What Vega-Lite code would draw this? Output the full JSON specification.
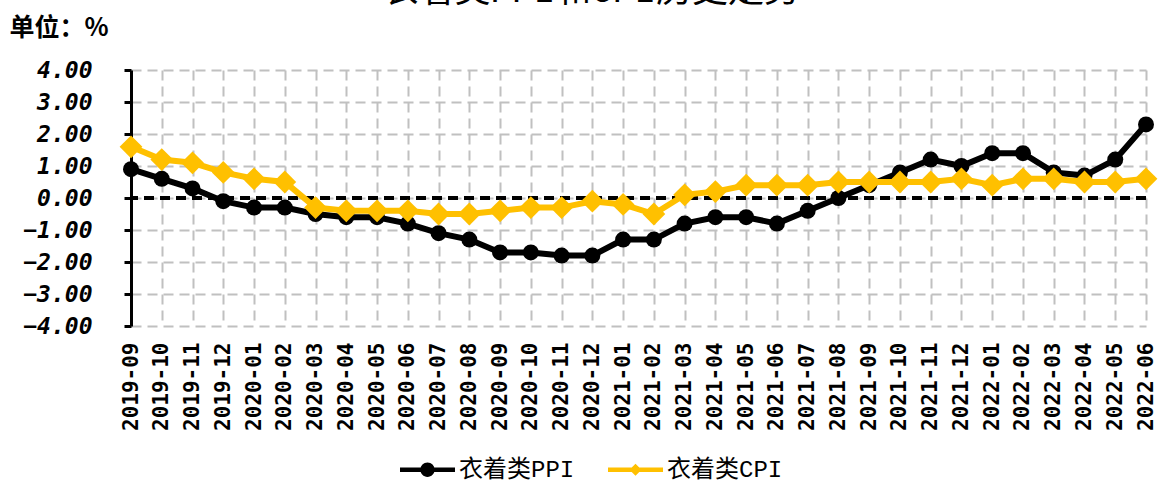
{
  "$schema": "https://vega.github.io/schema/vega-lite/v6.json",
  "width": 1015,
  "height": 256,
  "autosize": {"type": "none"},
  "padding": {"left": 131, "top": 70, "right": 13, "bottom": 159},
  "background": "white",
  "title": {"text": "衣着类PPI和CPI历史走势", "font": "Liberation Mono, Noto Sans CJK SC", "fontSize": 36, "fontWeight": "normal", "color": "black", "anchor": "middle", "frame": "bounds", "offset": 5},
  "config": {
    "view": {"stroke": null},
    "axisX": {"labelAngle": 270, "labelFont": "DejaVu Sans Mono", "labelFontWeight": "bold", "labelFontSize": 21, "labelColor": "black", "ticks": false, "tickSize": 0, "domain": false, "labelPadding": 16, "grid": true, "gridDash": [10, 6], "gridColor": "#c0c0c0", "gridWidth": 2},
    "axisY": {"titleAngle": 0, "titleX": -122, "titleY": -43, "titleAlign": "left", "titleBaseline": "middle", "titleFont": "Noto Sans CJK SC", "titleFontWeight": "bold", "titleFontSize": 25, "titleColor": "black",
      "values": [-4, -3, -2, -1, 0, 1, 2, 3, 4], "format": ".2f", "labelFont": "DejaVu Sans Mono", "labelFontStyle": "italic", "labelFontWeight": "bold", "labelFontSize": 23, "labelColor": "black", "labelPadding": 32,
      "domainColor": "black", "domainWidth": 3, "tickColor": "black", "tickWidth": 3, "tickSize": 7, "grid": true, "gridDash": [10, 6], "gridColor": "#c0c0c0", "gridWidth": 2}
  },
  "data": {"values": [
    {"m": "2019-09", "s": "衣着类PPI", "v": 0.9},
    {"m": "2019-10", "s": "衣着类PPI", "v": 0.6},
    {"m": "2019-11", "s": "衣着类PPI", "v": 0.3},
    {"m": "2019-12", "s": "衣着类PPI", "v": -0.1},
    {"m": "2020-01", "s": "衣着类PPI", "v": -0.3},
    {"m": "2020-02", "s": "衣着类PPI", "v": -0.3},
    {"m": "2020-03", "s": "衣着类PPI", "v": -0.5},
    {"m": "2020-04", "s": "衣着类PPI", "v": -0.6},
    {"m": "2020-05", "s": "衣着类PPI", "v": -0.6},
    {"m": "2020-06", "s": "衣着类PPI", "v": -0.8},
    {"m": "2020-07", "s": "衣着类PPI", "v": -1.1},
    {"m": "2020-08", "s": "衣着类PPI", "v": -1.3},
    {"m": "2020-09", "s": "衣着类PPI", "v": -1.7},
    {"m": "2020-10", "s": "衣着类PPI", "v": -1.7},
    {"m": "2020-11", "s": "衣着类PPI", "v": -1.8},
    {"m": "2020-12", "s": "衣着类PPI", "v": -1.8},
    {"m": "2021-01", "s": "衣着类PPI", "v": -1.3},
    {"m": "2021-02", "s": "衣着类PPI", "v": -1.3},
    {"m": "2021-03", "s": "衣着类PPI", "v": -0.8},
    {"m": "2021-04", "s": "衣着类PPI", "v": -0.6},
    {"m": "2021-05", "s": "衣着类PPI", "v": -0.6},
    {"m": "2021-06", "s": "衣着类PPI", "v": -0.8},
    {"m": "2021-07", "s": "衣着类PPI", "v": -0.4},
    {"m": "2021-08", "s": "衣着类PPI", "v": 0.0},
    {"m": "2021-09", "s": "衣着类PPI", "v": 0.4},
    {"m": "2021-10", "s": "衣着类PPI", "v": 0.8},
    {"m": "2021-11", "s": "衣着类PPI", "v": 1.2},
    {"m": "2021-12", "s": "衣着类PPI", "v": 1.0},
    {"m": "2022-01", "s": "衣着类PPI", "v": 1.4},
    {"m": "2022-02", "s": "衣着类PPI", "v": 1.4},
    {"m": "2022-03", "s": "衣着类PPI", "v": 0.8},
    {"m": "2022-04", "s": "衣着类PPI", "v": 0.7},
    {"m": "2022-05", "s": "衣着类PPI", "v": 1.2},
    {"m": "2022-06", "s": "衣着类PPI", "v": 2.3},
    {"m": "2019-09", "s": "衣着类CPI", "v": 1.6},
    {"m": "2019-10", "s": "衣着类CPI", "v": 1.2},
    {"m": "2019-11", "s": "衣着类CPI", "v": 1.1},
    {"m": "2019-12", "s": "衣着类CPI", "v": 0.8},
    {"m": "2020-01", "s": "衣着类CPI", "v": 0.6},
    {"m": "2020-02", "s": "衣着类CPI", "v": 0.5},
    {"m": "2020-03", "s": "衣着类CPI", "v": -0.3},
    {"m": "2020-04", "s": "衣着类CPI", "v": -0.4},
    {"m": "2020-05", "s": "衣着类CPI", "v": -0.4},
    {"m": "2020-06", "s": "衣着类CPI", "v": -0.4},
    {"m": "2020-07", "s": "衣着类CPI", "v": -0.5},
    {"m": "2020-08", "s": "衣着类CPI", "v": -0.5},
    {"m": "2020-09", "s": "衣着类CPI", "v": -0.4},
    {"m": "2020-10", "s": "衣着类CPI", "v": -0.3},
    {"m": "2020-11", "s": "衣着类CPI", "v": -0.3},
    {"m": "2020-12", "s": "衣着类CPI", "v": -0.1},
    {"m": "2021-01", "s": "衣着类CPI", "v": -0.2},
    {"m": "2021-02", "s": "衣着类CPI", "v": -0.5},
    {"m": "2021-03", "s": "衣着类CPI", "v": 0.1},
    {"m": "2021-04", "s": "衣着类CPI", "v": 0.2},
    {"m": "2021-05", "s": "衣着类CPI", "v": 0.4},
    {"m": "2021-06", "s": "衣着类CPI", "v": 0.4},
    {"m": "2021-07", "s": "衣着类CPI", "v": 0.4},
    {"m": "2021-08", "s": "衣着类CPI", "v": 0.5},
    {"m": "2021-09", "s": "衣着类CPI", "v": 0.5},
    {"m": "2021-10", "s": "衣着类CPI", "v": 0.5},
    {"m": "2021-11", "s": "衣着类CPI", "v": 0.5},
    {"m": "2021-12", "s": "衣着类CPI", "v": 0.6},
    {"m": "2022-01", "s": "衣着类CPI", "v": 0.4},
    {"m": "2022-02", "s": "衣着类CPI", "v": 0.6},
    {"m": "2022-03", "s": "衣着类CPI", "v": 0.6},
    {"m": "2022-04", "s": "衣着类CPI", "v": 0.5},
    {"m": "2022-05", "s": "衣着类CPI", "v": 0.5},
    {"m": "2022-06", "s": "衣着类CPI", "v": 0.6}
  ]},
  "layer": [
    {
      "transform": [{"filter": "datum.s === '衣着类PPI'"}],
      "mark": {"type": "line", "color": "#000000", "strokeWidth": 6},
      "encoding": {
        "x": {"field": "m", "type": "ordinal", "title": null, "scale": {"type": "point", "padding": 0}},
        "y": {"field": "v", "type": "quantitative", "title": "单位：%", "scale": {"domain": [-4, 4], "nice": false}}
      }
    },
    {
      "mark": {"type": "rule", "color": "#000000", "strokeWidth": 3, "strokeDash": [10, 6]},
      "encoding": {"y": {"datum": 0, "type": "quantitative", "title": "单位：%", "scale": {"domain": [-4, 4], "nice": false}}}
    },
    {
      "transform": [{"filter": "datum.s === '衣着类PPI'"}],
      "mark": {"type": "point", "filled": true, "shape": "circle", "size": 256, "color": "#000000", "opacity": 1},
      "encoding": {
        "x": {"field": "m", "type": "ordinal", "title": null, "scale": {"type": "point", "padding": 0}},
        "y": {"field": "v", "type": "quantitative", "title": "单位：%", "scale": {"domain": [-4, 4], "nice": false}}
      }
    },
    {
      "transform": [{"filter": "datum.s === '衣着类CPI'"}],
      "mark": {"type": "line", "color": "#FFC000", "strokeWidth": 6},
      "encoding": {
        "x": {"field": "m", "type": "ordinal", "title": null, "scale": {"type": "point", "padding": 0}},
        "y": {"field": "v", "type": "quantitative", "title": "单位：%", "scale": {"domain": [-4, 4], "nice": false}}
      }
    },
    {
      "transform": [{"filter": "datum.s === '衣着类CPI'"}],
      "mark": {"type": "point", "filled": true, "shape": "diamond", "size": 520, "color": "#FFC000", "opacity": 1},
      "encoding": {
        "x": {"field": "m", "type": "ordinal", "title": null, "scale": {"type": "point", "padding": 0}},
        "y": {"field": "v", "type": "quantitative", "title": "单位：%", "scale": {"domain": [-4, 4], "nice": false}}
      }
    },
    {
      "mark": {"type": "point", "filled": true, "opacity": 0, "size": 3025},
      "encoding": {
        "x": {"field": "m", "type": "ordinal", "title": null, "scale": {"type": "point", "padding": 0}},
        "y": {"field": "v", "type": "quantitative", "title": "单位：%", "scale": {"domain": [-4, 4], "nice": false}},
        "color": {"field": "s", "type": "nominal",
          "scale": {"domain": ["衣着类PPI", "衣着类CPI"], "range": ["#000000", "#FFC000"]},
          "legend": {"title": null, "orient": "none", "legendX": 269, "legendY": 372, "direction": "horizontal", "symbolSize": 3025, "symbolStrokeWidth": 0, "symbolOpacity": 1, "labelFont": "Liberation Mono, Noto Sans CJK SC", "labelFontSize": 24, "labelColor": "black", "labelOffset": 4, "columnPadding": 33, "padding": 0, "labelLimit": 0}},
        "shape": {"field": "s", "type": "nominal",
          "scale": {"domain": ["衣着类PPI", "衣着类CPI"], "range": [
            "M-1,-0.08 L1,-0.08 L1,0.08 L-1,0.08 Z M-0.26,0 A0.26,0.26 0 1,1 0.26,0 A0.26,0.26 0 1,1 -0.26,0 Z",
            "M-1,-0.08 L1,-0.08 L1,0.08 L-1,0.08 Z M0,-0.22 L0.22,0 L0,0.22 L-0.22,0 Z"]},
          "legend": {"title": null, "orient": "none", "legendX": 269, "legendY": 372, "direction": "horizontal", "symbolSize": 3025, "symbolStrokeWidth": 0, "symbolOpacity": 1, "labelFont": "Liberation Mono, Noto Sans CJK SC", "labelFontSize": 24, "labelColor": "black", "labelOffset": 4, "columnPadding": 33, "padding": 0, "labelLimit": 0}}
      }
    }
  ]
}
